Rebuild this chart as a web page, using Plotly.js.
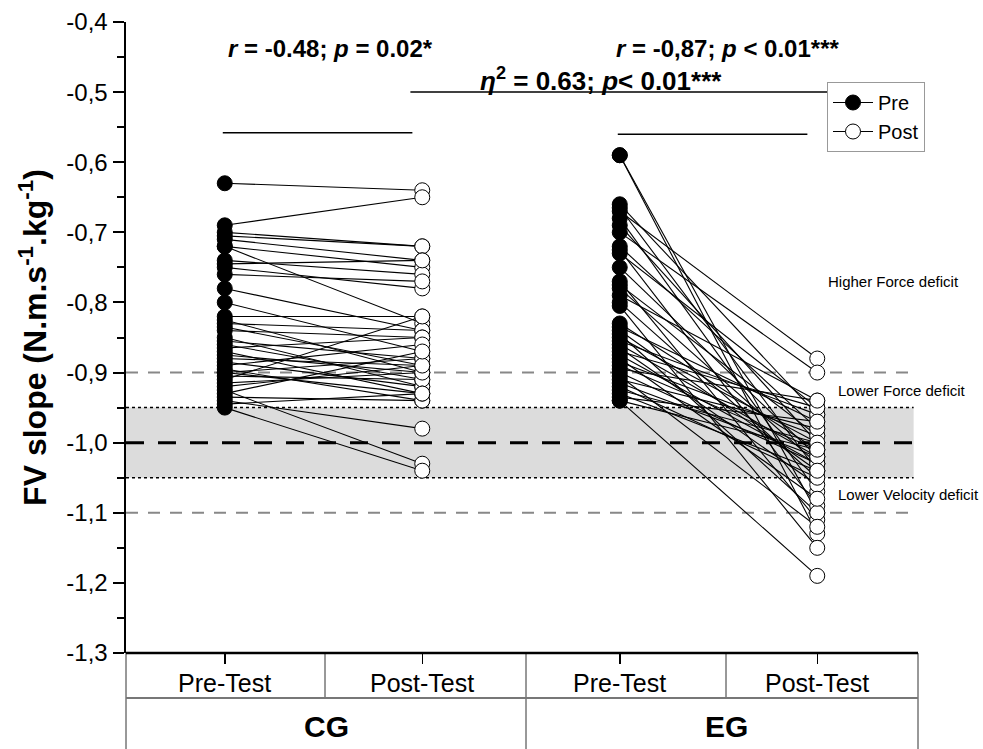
<!DOCTYPE html>
<html>
<head>
<meta charset="utf-8">
<script src="https://cdn.plot.ly/plotly-3.0.1.min.js"></script>
<style>html,body{margin:0;padding:0;background:#fff;}#chart{width:983px;height:749px;}</style>
</head>
<body>
<div id="chart"></div>
<script>
// ---------- data ----------
const groups = ['CG', 'EG'];
const phases = ['Pre-Test', 'Post-Test'];
const seriesNames = ['Pre', 'Post'];

const cgPre  = [-0.63,-0.69,-0.70,-0.705,-0.71,-0.72,-0.72,-0.74,-0.745,-0.75,-0.76,-0.78,-0.80,-0.82,-0.825,-0.83,-0.835,-0.84,-0.85,-0.855,-0.86,-0.865,-0.87,-0.875,-0.88,-0.885,-0.89,-0.895,-0.90,-0.905,-0.91,-0.915,-0.92,-0.925,-0.93,-0.935,-0.94,-0.945,-0.95,-0.90];
const cgPost = [-0.64,-0.65,-0.72,-0.72,-0.74,-0.75,-0.83,-0.76,-0.74,-0.78,-0.77,-0.84,-0.87,-0.82,-0.90,-0.84,-0.89,-0.85,-0.92,-0.88,-0.91,-0.85,-0.93,-0.90,-0.89,-0.92,-0.86,-0.94,-0.88,-0.91,-0.82,-0.90,-0.89,-1.03,-0.87,-0.94,-0.98,-0.93,-1.04,-0.93];

const egPre  = [-0.59,-0.59,-0.66,-0.665,-0.67,-0.68,-0.69,-0.70,-0.72,-0.725,-0.73,-0.75,-0.77,-0.775,-0.78,-0.79,-0.80,-0.805,-0.83,-0.835,-0.84,-0.845,-0.85,-0.855,-0.86,-0.865,-0.87,-0.875,-0.88,-0.885,-0.89,-0.895,-0.90,-0.905,-0.91,-0.915,-0.92,-0.925,-0.93,-0.935,-0.94,-0.94];
const egPost = [-1.10,-1.13,-0.96,-1.04,-0.88,-1.07,-1.00,-0.90,-0.98,-1.09,-0.95,-1.02,-1.11,-0.99,-1.03,-0.94,-1.05,-1.15,-1.01,-0.97,-1.04,-1.10,-1.00,-0.96,-1.02,-1.06,-0.95,-1.03,-1.08,-0.99,-1.01,-0.94,-1.03,-1.12,-0.98,-1.02,-1.05,-1.00,-1.04,-0.97,-1.19,-1.01];

const yTickVals = [-1.3,-1.2,-1.1,-1.0,-0.9,-0.8,-0.7,-0.6,-0.5,-0.4];
const yTickText = ['-1,3','-1,2','-1,1','-1,0','-0,9','-0,8','-0,7','-0,6','-0,5','-0,4'];

const zoneLabels = ['Higher Force deficit', 'Lower Force deficit', 'Lower Velocity deficit'];
const statTexts = [
  '<b><i>r</i> = -0.48; <i>p</i> = 0.02*</b>',
  '<b><i>r</i> = -0,87; <i>p</i> &lt; 0.01***</b>',
  '<b><i>η</i><sup>2</sup> = 0.63; <i>p</i>&lt; 0.01***</b>'
];

// ---------- build ----------
const keys = [];
groups.forEach(g => phases.forEach(p => keys.push(g + ' ' + p)));

function pairTrace(pre, post, kPre, kPost) {
  const x = [], y = [];
  for (let i = 0; i < pre.length; i++) {
    x.push(kPre, kPost, null);
    y.push(pre[i], post[i], null);
  }
  return {x, y, type:'scatter', mode:'lines', line:{color:'#000', width:1.1},
          showlegend:false, hoverinfo:'skip'};
}
function markerTrace(name, arrs, ks, filled) {
  const x = [], y = [];
  arrs.forEach((a, j) => a.forEach(v => { x.push(ks[j], null); y.push(v, null); }));
  return {x, y, name, type:'scatter', mode:'lines+markers', connectgaps:false,
          line:{color:'#000', width:1},
          marker:{symbol:'circle', size:15, color: filled ? '#000' : '#fff',
                  line:{color:'#000', width:1}}};
}

const traces = [
  pairTrace(cgPre, cgPost, keys[0], keys[1]),
  pairTrace(egPre, egPost, keys[2], keys[3]),
  markerTrace(seriesNames[0], [cgPre, egPre], [keys[0], keys[2]], true),
  markerTrace(seriesNames[1], [cgPost, egPost], [keys[1], keys[3]], false)
];

const FONT = 'Liberation Sans, Arial, sans-serif';
const pxX = p => (p - 126) / 790;
const pxY = p => (653 - p) / 631;

const shapes = [
  // band
  {type:'rect', xref:'paper', yref:'y', x0:0, x1:0.997, y0:-1.05, y1:-0.95, fillcolor:'#dcdcdc', line:{width:0}, layer:'below'},
  {type:'line', xref:'paper', yref:'y', x0:0, x1:0.997, y0:-0.95, y1:-0.95, line:{color:'#000', width:1.5, dash:'dot'}, layer:'below'},
  {type:'line', xref:'paper', yref:'y', x0:0, x1:0.997, y0:-1.05, y1:-1.05, line:{color:'#000', width:1.5, dash:'dot'}, layer:'below'},
  {type:'line', xref:'paper', yref:'y', x0:0, x1:0.997, y0:-1.0, y1:-1.0, line:{color:'#000', width:3, dash:'18px,14px'}, layer:'below'},
  {type:'line', xref:'paper', yref:'y', x0:0, x1:0.997, y0:-0.9, y1:-0.9, line:{color:'#888', width:2, dash:'12px,10px'}, layer:'below'},
  {type:'line', xref:'paper', yref:'y', x0:0, x1:0.997, y0:-1.1, y1:-1.1, line:{color:'#888', width:2, dash:'12px,10px'}, layer:'below'},
  // significance bars
  {type:'line', xref:'x', yref:'y', x0:-0.01, x1:0.95, y0:-0.558, y1:-0.558, line:{color:'#000', width:1.5}},
  {type:'line', xref:'x', yref:'y', x0:1.99, x1:2.95, y0:-0.56, y1:-0.56, line:{color:'#000', width:1.5}},
  {type:'line', xref:'x', yref:'y', x0:0.94, x1:3.5, y0:-0.5, y1:-0.5, line:{color:'#000', width:1.5}},
  // table
  {type:'line', xref:'paper', yref:'paper', x0:0, x1:0, y0:0, y1:pxY(749), line:{color:'#333', width:1}},
  {type:'line', xref:'paper', yref:'paper', x0:pxX(918), x1:pxX(918), y0:0, y1:pxY(749), line:{color:'#333', width:1}},
  {type:'line', xref:'paper', yref:'paper', x0:pxX(526), x1:pxX(526), y0:0, y1:pxY(749), line:{color:'#333', width:1}},
  {type:'line', xref:'paper', yref:'paper', x0:pxX(325), x1:pxX(325), y0:0, y1:pxY(698), line:{color:'#333', width:1}},
  {type:'line', xref:'paper', yref:'paper', x0:pxX(726), x1:pxX(726), y0:0, y1:pxY(698), line:{color:'#333', width:1}},
  {type:'line', xref:'paper', yref:'paper', x0:0, x1:pxX(918), y0:pxY(698), y1:pxY(698), line:{color:'#777', width:2}},
  {type:'line', xref:'paper', yref:'paper', x0:0, x1:pxX(918), y0:0, y1:0, line:{color:'#000', width:2.5}}
];

const mid = {xanchor:'center', yanchor:'middle', showarrow:false};
const annotations = [
  Object.assign({xref:'paper', yref:'paper', x:pxX(330), y:pxY(48), text:statTexts[0], font:{size:24, color:'#000'}}, mid),
  Object.assign({xref:'paper', yref:'paper', x:pxX(727), y:pxY(48), text:statTexts[1], font:{size:24, color:'#000'}}, mid),
  Object.assign({xref:'paper', yref:'paper', x:pxX(601), y:pxY(79), text:statTexts[2], font:{size:26, color:'#000'}}, mid),
  {xref:'paper', yref:'paper', x:pxX(826), y:pxY(281), xanchor:'left', yanchor:'middle', text:zoneLabels[0], showarrow:false, font:{size:15, color:'#000'}},
  {xref:'paper', yref:'paper', x:pxX(836), y:pxY(390), xanchor:'left', yanchor:'middle', text:zoneLabels[1], showarrow:false, font:{size:15, color:'#000'}},
  {xref:'paper', yref:'paper', x:pxX(836), y:pxY(494), xanchor:'left', yanchor:'middle', text:zoneLabels[2], showarrow:false, font:{size:15, color:'#000'}}
];
keys.forEach((k, i) => annotations.push(Object.assign({xref:'x', yref:'paper', x:k, y:pxY(683), text:phases[i % 2],
  font:{size:25, color:'#000'}}, mid)));
groups.forEach((g, i) => annotations.push(Object.assign({xref:'paper', yref:'paper', x:pxX(i === 0 ? 326 : 726), y:pxY(726),
  text:'<b>' + g + '</b>', font:{size:30, color:'#000'}}, mid)));

const layout = {
  width:983, height:749,
  margin:{l:126, r:67, t:22, b:96},
  paper_bgcolor:'#fff', plot_bgcolor:'#fff',
  font:{family:FONT, color:'#000'},
  showlegend:true,
  legend:{x:pxX(827), y:pxY(82), xanchor:'left', yanchor:'top', bgcolor:'#fff',
          bordercolor:'#999', borderwidth:1, font:{size:20}, tracegroupgap:0, itemwidth:40},
  xaxis:{type:'category', categoryorder:'array', categoryarray:keys, range:[-0.5, 3.5],
         showline:false, showgrid:false, zeroline:false, ticks:'outside', ticklen:10,
         tickwidth:1.5, tickcolor:'#000', showticklabels:false, fixedrange:true},
  yaxis:{range:[-1.3, -0.4], tickvals:yTickVals, ticktext:yTickText,
         showline:true, linewidth:2.5, linecolor:'#000', showgrid:false, zeroline:false,
         ticks:'outside', ticklen:11, tickwidth:2, tickcolor:'#000',
         minor:{ticks:'outside', ticklen:7, tickwidth:2, tickcolor:'#000', dtick:0.05, showgrid:false},
         tickfont:{size:24, family:FONT},
         title:{text:'<b>FV slope (N.m.s<sup>-1</sup>.kg<sup>-1</sup>)</b>', font:{size:32, family:FONT}, standoff:10}},
  shapes, annotations
};

Plotly.newPlot('chart', traces, layout, {displayModeBar:false, staticPlot:true});
</script>
</body>
</html>
